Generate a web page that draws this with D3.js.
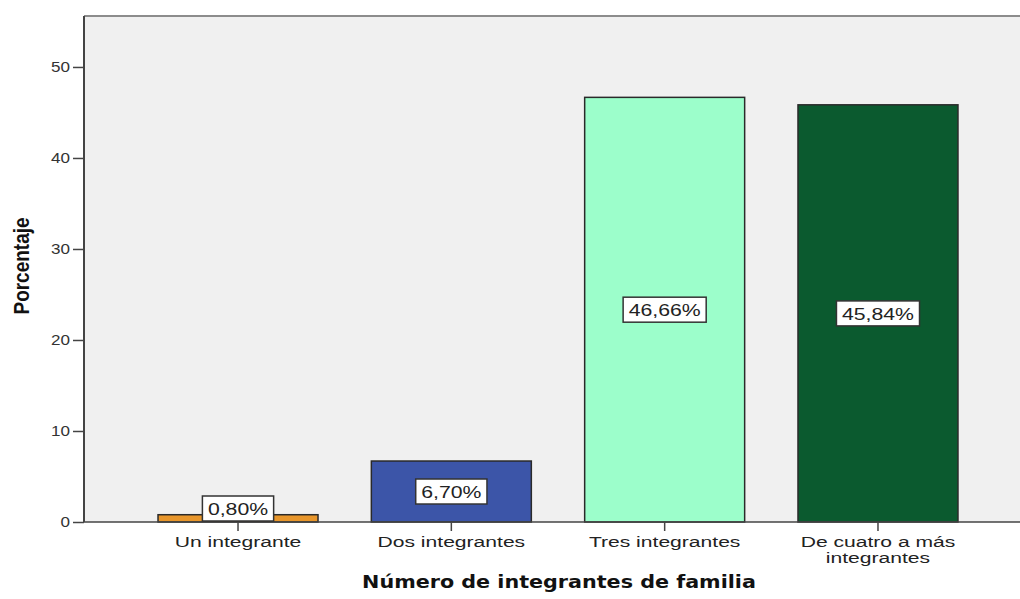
<!DOCTYPE html>
<html>
<head>
<meta charset="utf-8">
<script src="https://cdn.jsdelivr.net/npm/d3@7"></script>
<style>
  html, body { margin: 0; padding: 0; background: #ffffff; }
  svg { display: block; }
</style>
</head>
<body>
<svg id="chart" width="1020" height="599"></svg>
<script>
// Household size distribution (percent of families)
const categories = ["Un integrante", "Dos integrantes", "Tres integrantes", "De cuatro a más integrantes"];
const categoryLines = [["Un integrante"], ["Dos integrantes"], ["Tres integrantes"], ["De cuatro a más", "integrantes"]];
const percentages = [0.80, 6.70, 46.66, 45.84];
const valueLabels = ["0,80%", "6,70%", "46,66%", "45,84%"];
const barColors = ["#e8962b", "#3c55a8", "#9cfecb", "#0b5a2f"];
const yTicks = [0, 10, 20, 30, 40, 50];
const yTitle = "Porcentaje";
const xTitle = "Número de integrantes de familia";

const svg = d3.select("#chart");

// Plot frame
const plotLeft = 84, plotTop = 16, plotBottom = 522, plotRight = 1020;

const x = d3.scaleBand()
  .domain(categories)
  .range([plotLeft, 1032])
  .paddingInner(0.25)
  .paddingOuter(0.347);

const y = d3.scaleLinear()
  .domain([0, 55.6])
  .range([plotBottom, plotTop]);

// Text is rendered slightly wide; sx is the horizontal stretch for each text group
function stretchedText(parent, str, px, py, sx, opts) {
  return parent.append("text")
    .attr("transform", `translate(${px},${py}) scale(${sx},1)`)
    .attr("text-anchor", opts.anchor || "middle")
    .attr("font-family", opts.family || "'Liberation Sans', Arial, sans-serif")
    .attr("font-size", opts.size)
    .attr("font-weight", opts.weight || "normal")
    .attr("fill", opts.fill || "#222")
    .text(str);
}

// Background of plot area
svg.append("rect")
  .attr("x", plotLeft).attr("y", plotTop)
  .attr("width", plotRight - plotLeft).attr("height", plotBottom - plotTop)
  .attr("fill", "#f0f0f0");

// Top border
svg.append("line")
  .attr("x1", plotLeft).attr("x2", plotRight)
  .attr("y1", plotTop).attr("y2", plotTop)
  .attr("stroke", "#8c8c8c").attr("stroke-width", 2);

// Bars
const bars = svg.append("g");
bars.selectAll("rect")
  .data(percentages)
  .join("rect")
  .attr("x", (d, i) => x(categories[i]))
  .attr("y", d => y(d))
  .attr("width", x.bandwidth())
  .attr("height", d => y(0) - y(d))
  .attr("fill", (d, i) => barColors[i])
  .attr("stroke", "#2a2a2a")
  .attr("stroke-width", 1.5);

// Left axis
const yAxis = svg.append("g")
  .attr("transform", `translate(${plotLeft},0)`)
  .call(d3.axisLeft(y).tickValues(yTicks).tickSize(11).tickSizeOuter(0).tickFormat(d3.format("d")));
yAxis.select(".domain").attr("stroke", "#444").attr("stroke-width", 2)
  .attr("d", `M0,${plotTop}V${plotBottom}`);
yAxis.selectAll(".tick line").attr("stroke", "#444").attr("stroke-width", 1.5);
yAxis.selectAll(".tick text").each(function () {
  const sx = 1.22;
  d3.select(this)
    .attr("x", -14 / sx)
    .attr("dy", "0.35em")
    .attr("transform", `scale(${sx},1)`)
    .attr("font-family", "'Liberation Sans', Arial, sans-serif")
    .attr("font-size", 14)
    .attr("fill", "#333");
});

// Bottom axis
const xAxis = svg.append("g")
  .attr("transform", `translate(0,${plotBottom})`)
  .call(d3.axisBottom(x).tickSize(9).tickSizeOuter(0).tickFormat(""));
xAxis.select(".domain").attr("stroke", "#444").attr("stroke-width", 1.5)
  .attr("d", `M${plotLeft},0H${plotRight}`);
xAxis.selectAll(".tick line").attr("stroke", "#444").attr("stroke-width", 1.5);

// Category labels (multi-line where needed)
const catLabels = svg.append("g");
categoryLines.forEach((lines, i) => {
  const cx = x(categories[i]) + x.bandwidth() / 2;
  lines.forEach((ln, j) => {
    stretchedText(catLabels, ln, cx, 547 + j * 16, 1.36, { size: 15.5, fill: "#222" });
  });
});

// Value labels in boxes, centred on each bar, kept above the baseline
const boxH = 25, padX = 5.5, labelSx = 1.25, labelSize = 17;
const labels = svg.append("g");
percentages.forEach((v, i) => {
  const cx = x(categories[i]) + x.bandwidth() / 2;
  const mid = (y(v) + y(0)) / 2;
  const cy = Math.min(mid, y(0) - 1 - boxH / 2);
  const g = labels.append("g");
  const rect = g.append("rect");
  const t = stretchedText(g, valueLabels[i], cx, cy + labelSize * 0.36, labelSx, { size: labelSize, fill: "#222" });
  const w = t.node().getComputedTextLength() * labelSx + 2 * padX;
  rect.attr("x", cx - w / 2).attr("y", cy - boxH / 2)
    .attr("width", w).attr("height", boxH)
    .attr("fill", "#ffffff")
    .attr("stroke", "#333").attr("stroke-width", 1.5);
});

// Axis titles
stretchedText(svg, xTitle, 559, 588, 1.15,
  { size: 18, weight: "bold", family: "'DejaVu Sans', Verdana, sans-serif", fill: "#111" });

svg.append("text")
  .attr("transform", `translate(29,266) scale(1.2,1) rotate(-90)`)
  .attr("text-anchor", "middle")
  .attr("font-family", "'Liberation Sans', Arial, sans-serif")
  .attr("font-weight", "bold")
  .attr("font-size", 19)
  .attr("fill", "#111")
  .text(yTitle);
</script>
</body>
</html>
